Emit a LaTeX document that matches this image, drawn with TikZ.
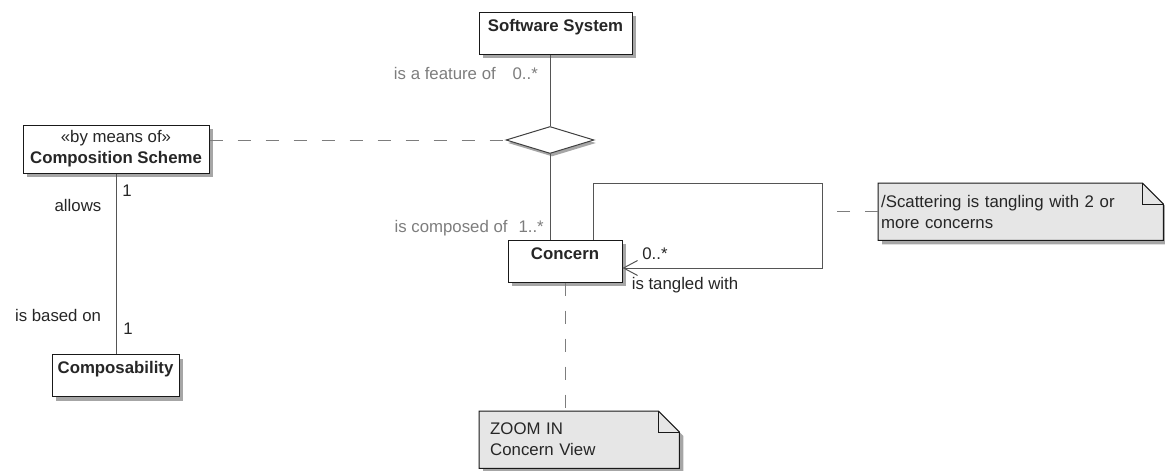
\documentclass[tikz,border=0pt]{standalone}
\usepackage{fontspec}
\setmainfont{Liberation Sans}
\usetikzlibrary{shapes.geometric,shadows,arrows.meta,backgrounds}
\definecolor{notegrey}{RGB}{230,230,230}
\definecolor{labelgrey}{RGB}{125,125,125}
\definecolor{linegrey}{RGB}{85,85,85}

\begin{document}
\begin{tikzpicture}[x=1pt,y=-1pt,
  every node/.style={font=\fontsize{16.8}{21}\selectfont,text=black!85},
  boxshadow/.style={drop shadow={shadow xshift=4pt,shadow yshift=-4pt,fill=black!35,opacity=1}},
  cls/.style={draw=black!90,fill=white,line width=1pt,font=\fontsize{16.8}{21}\selectfont\bfseries,
    text height=16pt,text depth=20pt,inner xsep=0pt,inner ysep=3pt,boxshadow},
  assoc/.style={draw=linegrey,line width=1pt},
  dashline/.style={draw=labelgrey,line width=1pt,dash pattern=on 13pt off 15pt},
  note/.style={align=left,inner ysep=0pt,minimum height=57pt,anchor=north west},
  rolegrey/.style={text=labelgrey,inner sep=0pt}]
\useasboundingbox (0,0) rectangle (1165,471);

\node[cls,minimum width=153pt] (sys) at (555.5,33) {Software System};
\node[cls,minimum width=186pt,minimum height=48pt,text height=,text depth=,align=center,inner ysep=4pt] (scheme) at (116,149)
  {{\mdseries «by means of»}\\Composition Scheme};
\node[cls,minimum width=127pt] (compos) at (115.5,375.5) {Composability};
\node[cls,minimum width=114pt] (concern) at (565,261) {Concern};
\node[diamond,draw=black!75,fill=white,line width=1pt,minimum width=88pt,minimum height=27pt,inner sep=0pt,
  drop shadow={shadow xshift=2pt,shadow yshift=-3pt,fill=black!35,opacity=1}] (dia) at (550,140) {};

\node[note,text width=279pt,inner xsep=3pt] (scat) at (878,183) {/Scattering is tangling with 2 or\\more concerns};
\node[note,text width=178pt,inner xsep=11pt] (zoom) at (479,411) {ZOOM IN\\Concern View};

\begin{scope}[on background layer]
\foreach \n in {scat,zoom} {
  \draw[fill=notegrey,draw=black!90,line width=1pt,boxshadow] (\n.north west) -- ([xshift=-21pt]\n.north east)
    -- ([yshift=-21pt]\n.north east) -- (\n.south east) -- (\n.south west) -- cycle;
  \draw[black!90,line width=1pt] ([xshift=-21pt]\n.north east) |- ([yshift=-21pt]\n.north east);
}
\end{scope}

\coordinate (loop) at (822,183);

\draw[assoc] (dia.north) -- (dia.north |- sys.south);
\draw[assoc] (dia.south) -- (dia.south |- concern.north);
\draw[dashline] (scheme.east |- dia.west) -- (dia.west);
\draw[assoc] (scheme.south) -- (scheme.south |- compos.north);
\draw[assoc,-{Straight Barb[length=14pt,width=15pt]}] ([xshift=28pt]concern.north) |- (loop) |- ([yshift=-7pt]concern.east);
\draw[dashline] (scat.west) -- (scat.west -| loop);
\draw[dashline] (concern.south) -- (concern.south |- zoom.north);

\node[rolegrey,anchor=east] (featlbl) at (538,73) {is a feature of\quad 0..*};
\node[rolegrey,anchor=east] (complbl) at (544,228) {is composed of\hspace{11pt}1..*};
\node (allowslbl) at (78,205) {allows};
\node (onelbl) at (127,191) {1};
\node (basedlbl) at (58,315) {is based on};
\node (twolbl) at (128,329) {1};
\node (manylbl) at (655,254) {0..*};
\node (tangledlbl) at (685,285) {is tangled with};
\end{tikzpicture}
\end{document}
